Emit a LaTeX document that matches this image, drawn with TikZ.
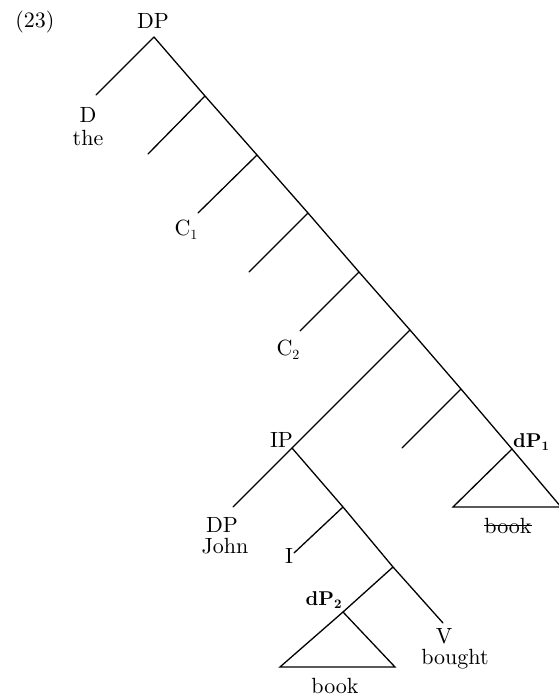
\documentclass[tikz,border=0pt]{standalone}
\usepackage{fontspec}
\setmainfont{lmroman10-regular.otf}[BoldFont=lmroman10-bold.otf]
\newcommand\lowsub[2][4pt]{\raisebox{-#1}{\fontsize{14}{14}\selectfont #2}}
\begin{document}
\begin{tikzpicture}[x=1pt,y=-1pt,
  branch/.style={line width=1.3pt, line cap=round},
  lab/.style={anchor=base, inner sep=0pt, font=\fontsize{22}{26}\selectfont},
  blab/.style={lab, font=\fontsize{20}{24}\selectfont\bfseries},
  strike/.style={line width=0.9pt}]
\useasboundingbox (0,0) rectangle (558,698);

% example number
\node[lab] (num) at (35,28) {(23)};

% main spine junctions
\coordinate (r)  at (154,37);
\coordinate (s1) at (205,96);
\coordinate (s2) at (257,155);
\coordinate (s3) at (308,213);
\coordinate (s4) at (359,272);
\coordinate (s5) at (410,330);
\coordinate (s6) at (461,389);
\coordinate (s7) at (512,449);

% left daughters of the spine
\coordinate (eD) at (96,95);
\coordinate (e1) at (148,154);
\coordinate (e2) at (198,213);
\coordinate (e3) at (249,272);
\coordinate (e4) at (300,331);
\coordinate (ip) at (292,448);
\coordinate (e6) at (402,448);

% triangle under dP1
\coordinate (t1l) at (453,507);
\coordinate (t1r) at (561,507);

% IP subtree
\coordinate (eDP) at (233,507);
\coordinate (i1)  at (343,507);
\coordinate (eI)  at (294,553);
\coordinate (v1)  at (393,567);
\coordinate (eV)  at (443,623);
\coordinate (d2)  at (343,612);
\coordinate (t2l) at (280,667);
\coordinate (t2r) at (395,667);

% labels
\node[lab] (topDP) at (153,29) {DP};
\node[lab] (D)     at (88,122) {D};
\node[lab] (the)   at (88,146) {the};
\node[lab] (C1)    at (186,235) {C\lowsub{1}};
\node[lab] (C2)    at (288,355) {C\lowsub{2}};
\node[lab] (IP)    at (281.5,447) {IP};
\node[blab] (dP1)  at (531,447) {dP\lowsub[3pt]{\fontsize{13}{13}\selectfont 1}};
\node[lab] (bk1)   at (508,533) {book};
\node[lab] (DP2)   at (222,532) {DP};
\node[lab] (John)  at (225,553) {John};
\node[lab] (I)     at (289,563) {I};
\node[blab] (dP2)  at (323.5,605) {dP\lowsub[3pt]{\fontsize{13}{13}\selectfont 2}};
\node[lab] (V)     at (444,643) {V};
\node[lab] (bought) at (455,664) {bought};
\node[lab] (bk2)   at (335,693) {book};

% struck-out copy of book
\draw[strike] ([yshift=7.5pt]bk1.base west) -- ([yshift=7.5pt]bk1.base east);

% spine
\draw[branch] (r) -- (s1) -- (s2) -- (s3) -- (s4) -- (s5) -- (s6) -- (s7);
\draw[branch] (r) -- (eD);
\draw[branch] (s1) -- (e1);
\draw[branch] (s2) -- (e2);
\draw[branch] (s3) -- (e3);
\draw[branch] (s4) -- (e4);
\draw[branch] (s5) -- (ip);
\draw[branch] (s6) -- (e6);
\draw[branch] (s7) -- (t1l) -- (t1r) -- cycle;

% IP subtree
\draw[branch] (ip) -- (eDP);
\draw[branch] (ip) -- (i1) -- (v1) -- (eV);
\draw[branch] (i1) -- (eI);
\draw[branch] (v1) -- (d2);
\draw[branch] (d2) -- (t2l) -- (t2r) -- cycle;
\end{tikzpicture}
\end{document}
